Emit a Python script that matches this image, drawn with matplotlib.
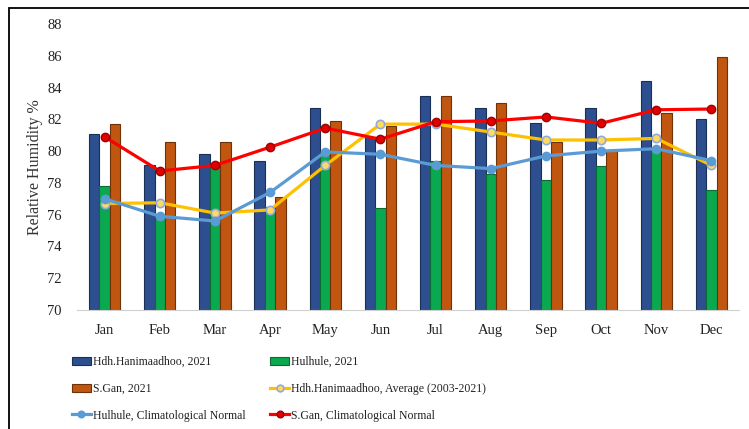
import matplotlib.pyplot as plt
import numpy as np
from matplotlib.patches import Rectangle

plt.rcParams["font.family"] = ["Liberation Serif", "DejaVu Serif"]

# ==========================================================
# Data
# ==========================================================

months = ["Jan", "Feb", "Mar", "Apr", "May", "Jun",
          "Jul", "Aug", "Sep", "Oct", "Nov", "Dec"]

hdh_2021 = [81.1, 79.1, 79.8, 79.4, 82.7, 80.9,
            83.5, 82.7, 81.75, 82.7, 84.4, 82.0]
hulhule_2021 = [77.8, 76.0, 79.0, 76.5, 79.75, 76.4,
                79.4, 78.55, 78.2, 79.05, 80.1, 77.55]
sgan_2021 = [81.7, 80.6, 80.6, 77.1, 81.9, 81.6,
             83.5, 83.0, 80.6, 80.1, 82.4, 85.95]

hdh_avg = [76.7, 76.75, 76.1, 76.3, 79.1, 81.7,
           81.7, 81.2, 80.7, 80.7, 80.8, 79.1]
hulhule_normal = [77.0, 75.9, 75.6, 77.4, 79.95, 79.8,
                  79.1, 78.9, 79.7, 80.0, 80.15, 79.4]
sgan_normal = [80.9, 78.75, 79.1, 80.25, 81.45, 80.75,
               81.85, 81.9, 82.15, 81.75, 82.6, 82.65]

yticks = [70, 72, 74, 76, 78, 80, 82, 84, 86, 88]

# ==========================================================
# Figure
# ==========================================================

W, H = 749, 429
fig = plt.figure(figsize=(W / 100, H / 100), dpi=100)

# outer frame (runs off the right and bottom edges)
fig.patches.append(Rectangle((9 / W, -0.05), 1.2, (H - 8) / H + 0.05,
                             transform=fig.transFigure, fill=False,
                             edgecolor="black", linewidth=1.3))

ax = fig.add_axes([77 / W, 1 - 310 / H, 662 / W, 286 / H])

x = np.arange(len(months))
bw = 0.19

bar_kw = dict(width=bw, linewidth=0.8, zorder=2)
b1 = ax.bar(x - bw, np.array(hdh_2021) - 70, bottom=70, color="#2E4F8F",
            edgecolor="#1B2F55", label="Hdh.Hanimaadhoo, 2021", **bar_kw)
b2 = ax.bar(x, np.array(hulhule_2021) - 70, bottom=70, color="#0AA84F",
            edgecolor="#0B6B33", label="Hulhule, 2021", **bar_kw)
b3 = ax.bar(x + bw, np.array(sgan_2021) - 70, bottom=70, color="#C0560F",
            edgecolor="#6E3208", label="S.Gan, 2021", **bar_kw)

l1, = ax.plot(x, hdh_avg, color="#FFC000", linewidth=2.3, marker="o",
              markersize=6, markerfacecolor="#FFD966",
              markeredgecolor="#8FAADC", markeredgewidth=1.2, zorder=4,
              label="Hdh.Hanimaadhoo, Average (2003-2021)")
l2, = ax.plot(x, hulhule_normal, color="#5B9BD5", linewidth=2.3, marker="o",
              markersize=6, markerfacecolor="#5B9BD5",
              markeredgecolor="#5B9BD5", zorder=5,
              label="Hulhule, Climatological Normal")
l3, = ax.plot(x, sgan_normal, color="#FF0000", linewidth=2.3, marker="o",
              markersize=6, markerfacecolor="#E00000",
              markeredgecolor="#A00000", zorder=6,
              label="S.Gan, Climatological Normal")

ax.set_xlim(-0.5, 11.5)
ax.set_ylim(70, 88)
ax.set_xticks(x)
ax.set_xticklabels(months)
ax.set_yticks(yticks)

for s in ["top", "right", "left"]:
    ax.spines[s].set_visible(False)
ax.spines["bottom"].set_color("#D0D0D0")
ax.tick_params(axis="both", length=0, labelsize=10.5, colors="#222222")
ax.tick_params(axis="x", pad=10)
ax.tick_params(axis="y", pad=11)

ax.set_ylabel("Relative Humidity %", fontsize=11.5, color="#333333",
              labelpad=3)

# legend: two columns, filled column-first
handles = [b1, b3, l2, b2, l1, l3]
labels = [h.get_label() for h in handles]
leg = fig.legend(handles, labels, ncol=2, loc="upper left",
                 bbox_to_anchor=(72 / W, 1 - 356 / H), frameon=False,
                 fontsize=8.5, handlelength=1.6, handletextpad=0.15,
                 labelspacing=1.25, columnspacing=2.1,
                 borderpad=0, borderaxespad=0, handleheight=0.65,
                 markerscale=0.8)
for t in leg.get_texts():
    t.set_color("#222222")

fig.savefig("out.png", dpi=100)
plt.close(fig)
